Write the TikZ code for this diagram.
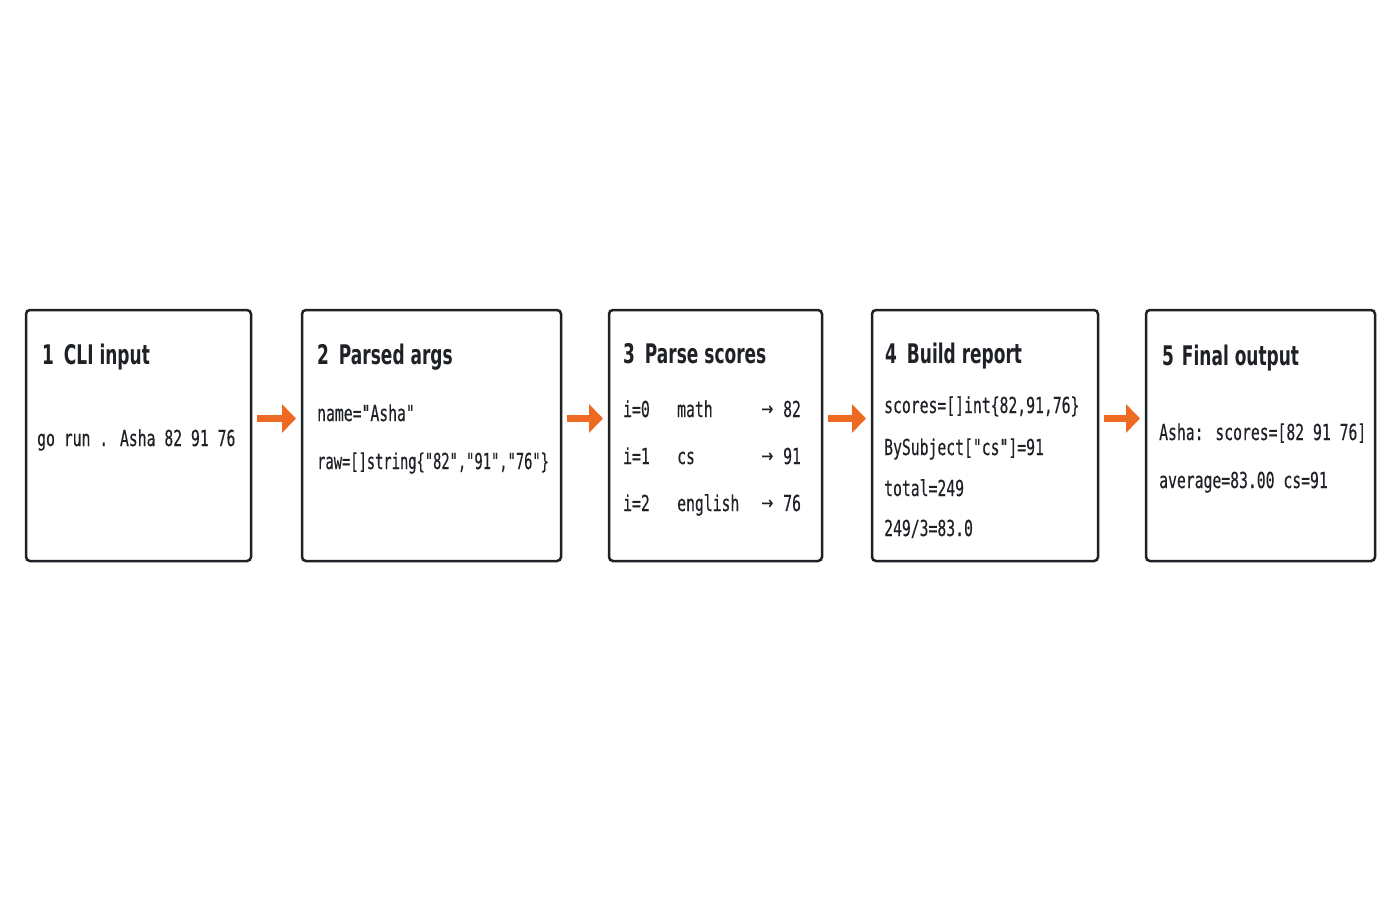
\documentclass[tikz,border=0pt]{standalone}
\usepackage{fontspec}
\newfontfamily\monof[FakeStretch=0.67,FakeBold=0.35]{DejaVu Sans Mono}
\newfontfamily\mononarrow[FakeStretch=0.625,FakeBold=0.35]{DejaVu Sans Mono}
\newfontfamily\arrowf[FakeStretch=0.8,FakeBold=0.3]{DejaVu Sans}
\newfontfamily\titlef[FakeStretch=0.63]{DejaVu Sans}
\usetikzlibrary{arrows.meta}
\definecolor{ink}{HTML}{1E2126}
\definecolor{accent}{HTML}{EE6A22}
\tikzset{
  stage/.style={draw=ink, line width=2.5pt, rounded corners=4pt, fill=white, inner sep=0pt, outer sep=0pt, anchor=north west},
  ttl/.style={anchor=base west, inner sep=0pt, text=ink, font=\titlef\bfseries\fontsize{27}{27}\selectfont},
  txt/.style={anchor=base west, inner sep=0pt, text=ink, font=\monof\fontsize{22}{22}\selectfont},
  arr/.style={anchor=base west, inner sep=0pt, text=ink, font=\arrowf\fontsize{18}{18}\selectfont},
  flow/.style={draw=accent, line width=7pt, -{Triangle[length=14pt,width=28pt]}}
}
\begin{document}
\begin{tikzpicture}[x=1pt,y=-1pt]
\useasboundingbox[fill=white] (0,0) rectangle (1400,900);
% boxes
\node[stage, minimum width=225pt, minimum height=251pt] (b1) at (26,310) {};
\node[stage, minimum width=259pt, minimum height=251pt] (b2) at (302,310) {};
\node[stage, minimum width=213pt, minimum height=251pt] (b3) at (609,310) {};
\node[stage, minimum width=226pt, minimum height=251pt] (b4) at (872,310) {};
\node[stage, minimum width=229pt, minimum height=251pt] (b5) at (1146,310) {};
% arrows
\draw[flow] ([xshift=6pt,yshift=17pt]b1.east) -- ([xshift=-6pt,yshift=17pt]b2.west);
\draw[flow] ([xshift=6pt,yshift=17pt]b2.east) -- ([xshift=-6pt,yshift=17pt]b3.west);
\draw[flow] ([xshift=6pt,yshift=17pt]b3.east) -- ([xshift=-6pt,yshift=17pt]b4.west);
\draw[flow] ([xshift=6pt,yshift=17pt]b4.east) -- ([xshift=-6pt,yshift=17pt]b5.west);
% box 1
\node[ttl] (t1) at (42,364) {1\hspace{4pt} CLI input};
\node[txt] (l11) at (37,446) {go run . Asha 82 91 76};
% box 2
\node[ttl] (t2) at (317,364) {2\hspace{4pt} Parsed args};
\node[txt] (l21) at (317,421) {name="Asha"};
\node[txt, font=\mononarrow\fontsize{22}{22}\selectfont] (l22) at (317,469) {raw=[]string\{"82","91","76"\}};
% box 3
\node[ttl] (t3) at (623,363) {3\hspace{4pt} Parse scores};
\node[txt] (r1a) at (623,417) {i=0};
\node[txt] (r1b) at (677,417) {math};
\node[arr] (r1c) at (761,415) {→};
\node[txt] (r1d) at (783,417) {82};
\node[txt] (r2a) at (623,464) {i=1};
\node[txt] (r2b) at (677,464) {cs};
\node[arr] (r2c) at (761,462) {→};
\node[txt] (r2d) at (783,464) {91};
\node[txt] (r3a) at (623,511) {i=2};
\node[txt] (r3b) at (677,511) {english};
\node[arr] (r3c) at (761,509) {→};
\node[txt] (r3d) at (783,511) {76};
% box 4
\node[ttl] (t4) at (885,363) {4\hspace{4pt} Build report};
\node[txt] (l41) at (884,413) {scores=[]int\{82,91,76\}};
\node[txt] (l42) at (884,455) {BySubject["cs"]=91};
\node[txt] (l43) at (884,496) {total=249};
\node[txt] (l44) at (884,536) {249/3=83.0};
% box 5
\node[ttl] (t5) at (1162,365) {5\hspace{2pt} Final output};
\node[txt] (l51) at (1159,440) {Asha: scores=[82 91 76]};
\node[txt] (l52) at (1159,488) {average=83.00 cs=91};
\end{tikzpicture}
\end{document}
